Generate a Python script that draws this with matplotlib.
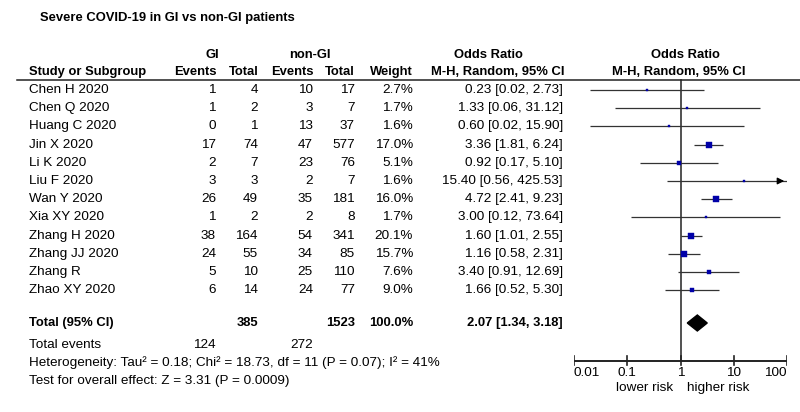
import numpy as np
import matplotlib.pyplot as plt

plt.rcParams['font.family'] = ['Liberation Sans', 'DejaVu Sans']

studies = ['Chen H 2020', 'Chen Q 2020', 'Huang C 2020', 'Jin X 2020', 'Li K 2020',
           'Liu F 2020', 'Wan Y 2020', 'Xia XY 2020', 'Zhang H 2020', 'Zhang JJ 2020',
           'Zhang R', 'Zhao XY 2020']
gi_events = [1, 1, 0, 17, 2, 3, 26, 1, 38, 24, 5, 6]
gi_total = [4, 2, 1, 74, 7, 3, 49, 2, 164, 55, 10, 14]
ngi_events = [10, 3, 13, 47, 23, 2, 35, 2, 54, 34, 25, 24]
ngi_total = [17, 7, 37, 577, 76, 7, 181, 8, 341, 85, 110, 77]
weight = [2.7, 1.7, 1.6, 17.0, 5.1, 1.6, 16.0, 1.7, 20.1, 15.7, 7.6, 9.0]
odds = [0.23, 1.33, 0.60, 3.36, 0.92, 15.40, 4.72, 3.00, 1.60, 1.16, 3.40, 1.66]
ci_lo = [0.02, 0.06, 0.02, 1.81, 0.17, 0.56, 2.41, 0.12, 1.01, 0.58, 0.91, 0.52]
ci_hi = [2.73, 31.12, 15.90, 6.24, 5.10, 425.53, 9.23, 73.64, 2.55, 2.31, 12.69, 5.30]

total_or, total_lo, total_hi = 2.07, 1.34, 3.18
total_gi, total_ngi = 385, 1523
events_gi, events_ngi = 124, 272
ticks = [0.01, 0.1, 1, 10, 100]
tick_labels = ['0.01', '0.1', '1', '10', '100']

fig = plt.figure(figsize=(8, 4.12), dpi=100)
ax = fig.add_axes([0, 0, 1, 1])
ax.set_xlim(0, 800)
ax.set_ylim(412, 0)
ax.axis('off')

fs = 9.7   # regular text
fb = 9.4   # bold text
ink = '#222222'
rows_y = 90 + 18.2 * np.arange(len(studies))

ax.text(40, 18, 'Severe COVID-19 in GI vs non-GI patients', fontsize=fb, fontweight='bold', va='center')
ax.text(212, 55, 'GI', fontsize=fb, fontweight='bold', ha='center', va='center')
ax.text(310, 55, 'non-GI', fontsize=fb, fontweight='bold', ha='center', va='center')
ax.text(488, 55, 'Odds Ratio', fontsize=fb, fontweight='bold', ha='center', va='center')
ax.text(685, 55, 'Odds Ratio', fontsize=fb, fontweight='bold', ha='center', va='center')
hy = 72
ax.text(29, hy, 'Study or Subgroup', fontsize=fb, fontweight='bold', va='center')
for xr, lab in [(217, 'Events'), (259, 'Total'), (314, 'Events'), (355, 'Total'), (413, 'Weight')]:
    ax.text(xr, hy, lab, fontsize=fb, fontweight='bold', ha='right', va='center')
ax.text(498, hy, 'M-H, Random, 95% CI', fontsize=fb, fontweight='bold', ha='center', va='center')
ax.text(679, hy, 'M-H, Random, 95% CI', fontsize=fb, fontweight='bold', ha='center', va='center')
ax.plot([17, 800], [80, 80], color=ink, lw=1.1)

for i, y in enumerate(rows_y):
    ax.text(29, y, studies[i], fontsize=fs, va='center')
    ax.text(216, y, str(gi_events[i]), fontsize=fs, ha='right', va='center')
    ax.text(258, y, str(gi_total[i]), fontsize=fs, ha='right', va='center')
    ax.text(313, y, str(ngi_events[i]), fontsize=fs, ha='right', va='center')
    ax.text(355, y, str(ngi_total[i]), fontsize=fs, ha='right', va='center')
    ax.text(413, y, f'{weight[i]:.1f}%', fontsize=fs, ha='right', va='center')
    ax.text(563, y, f'{odds[i]:.2f} [{ci_lo[i]:.2f}, {ci_hi[i]:.2f}]', fontsize=fs, ha='right', va='center')

ty = 323
ax.text(29, ty, 'Total (95% CI)', fontsize=fb, fontweight='bold', va='center')
ax.text(258, ty, str(total_gi), fontsize=fb, fontweight='bold', ha='right', va='center')
ax.text(355, ty, str(total_ngi), fontsize=fb, fontweight='bold', ha='right', va='center')
ax.text(413, ty, '100.0%', fontsize=fb, fontweight='bold', ha='right', va='center')
ax.text(563, ty, f'{total_or:.2f} [{total_lo:.2f}, {total_hi:.2f}]', fontsize=fb, fontweight='bold',
        ha='right', va='center')
ax.text(29, 345, 'Total events', fontsize=fs, va='center')
ax.text(216, 345, str(events_gi), fontsize=fs, ha='right', va='center')
ax.text(313, 345, str(events_ngi), fontsize=fs, ha='right', va='center')
ax.text(29, 363, 'Heterogeneity: Tau\u00b2 = 0.18; Chi\u00b2 = 18.73, df = 11 (P = 0.07); I\u00b2 = 41%',
        fontsize=fs, va='center')
ax.text(29, 381, 'Test for overall effect: Z = 3.31 (P = 0.0009)', fontsize=fs, va='center')

# forest panel on log scale
fa = fig.add_axes([574 / 800, 0, (787 - 574) / 800, 1])
fa.set_xscale('log')
fa.set_xlim(0.01, 100)
fa.set_ylim(412, 0)
fa.axis('off')

fa.plot([1, 1], [80, 361], color=ink, lw=1.1)
for i, y in enumerate(rows_y):
    hi = min(ci_hi[i], 100)
    fa.plot([ci_lo[i], hi], [y, y], color='#333333', lw=0.9, solid_capstyle='butt')
    if ci_hi[i] > 100:
        fa.annotate('', xy=(100, y), xytext=(60, y),
                    arrowprops=dict(arrowstyle='-|>', color='black', lw=0.9, mutation_scale=10))
    ms = (1.3 * np.sqrt(weight[i]) + 0.4) * 0.72
    fa.plot(odds[i], y, marker='s', ms=ms, color='#0000a8', mec='#0000a8', mew=0.3, ls='none')

fa.fill([total_lo, total_or, total_hi, total_or], [ty, ty - 8, ty, ty + 8], color='black')

ay = 361
fa.plot([0.01, 100], [ay, ay], color=ink, lw=1.4)
for t, lab in zip(ticks, tick_labels):
    fa.plot([t, t], [ay - 5, ay + 4], color=ink, lw=1.2)
    ha = 'left' if t == ticks[0] else ('right' if t == ticks[-1] else 'center')
    fa.text(t, ay + 12, lab, fontsize=fs, ha=ha, va='center')
fa.text(0.74, 388, 'lower risk', fontsize=fs, ha='right', va='center')
fa.text(1.3, 388, 'higher risk', fontsize=fs, ha='left', va='center')

fig.savefig('out.png', dpi=100)
